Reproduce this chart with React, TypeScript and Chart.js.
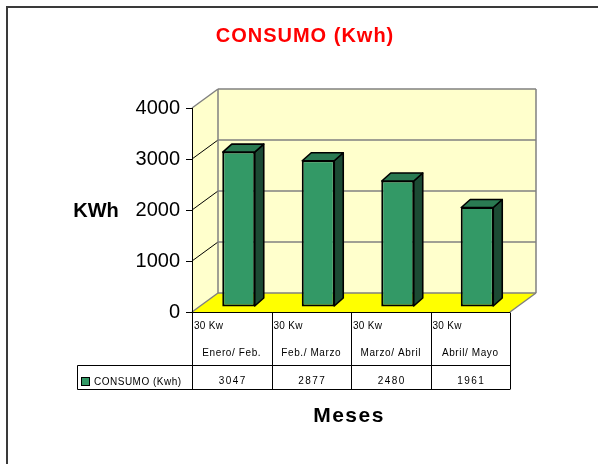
import { useEffect, useRef } from 'react';
import { Chart, registerables } from 'chart.js';

Chart.register(...registerables);

const categories = ['Enero/ Feb.', 'Feb./ Marzo', 'Marzo/ Abril', 'Abril/ Mayo'];
const categoryNotes = ['30 Kw', '30 Kw', '30 Kw', '30 Kw'];
const consumo = [3047, 2877, 2480, 1961];
const seriesLabel = 'CONSUMO (Kwh)';
const yTicks = [0, 1000, 2000, 3000, 4000];
const chartTitle = 'CONSUMO (Kwh)';
const yTitle = 'KWh';
const xTitle = 'Meses';

const FONT = '"Liberation Sans", Arial, sans-serif';
const DEPTH = { x: 26, y: -19 };
const BAR_SHIFT = { x: 7, y: -5 };
const BAR_DEPTH = { x: 9, y: -8 };
const WALL = '#FFFFCC';
const FLOOR = '#FFFF00';
const EDGE = '#808080';
const BAR_FRONT = '#339966';
const BAR_SIDE = '#1c4a33';
const BAR_TOP = '#2a7a52';

function poly(ctx: CanvasRenderingContext2D, pts: number[][], fill?: string, stroke?: string, lw = 1) {
  ctx.beginPath();
  ctx.moveTo(pts[0][0], pts[0][1]);
  for (let i = 1; i < pts.length; i++) ctx.lineTo(pts[i][0], pts[i][1]);
  ctx.closePath();
  if (fill) { ctx.fillStyle = fill; ctx.fill(); }
  if (stroke) { ctx.strokeStyle = stroke; ctx.lineWidth = lw; ctx.stroke(); }
}

function line(ctx: CanvasRenderingContext2D, x1: number, y1: number, x2: number, y2: number, color: string, lw = 1) {
  ctx.beginPath();
  ctx.moveTo(x1, y1);
  ctx.lineTo(x2, y2);
  ctx.strokeStyle = color;
  ctx.lineWidth = lw;
  ctx.stroke();
}

const scenePlugin = {
  id: 'scene3d',
  beforeDraw(chart: any) {
    const { ctx, chartArea: a, scales } = chart;
    const ys = scales.y;
    const xs = scales.x;
    ctx.save();
    ctx.fillStyle = '#ffffff';
    ctx.fillRect(0, 0, chart.width, chart.height);
    // outer frame
    ctx.strokeStyle = '#3a3a3a';
    ctx.lineWidth = 2;
    ctx.strokeRect(7, 7, chart.width + 40, chart.height + 40);

    const dx = DEPTH.x, dy = DEPTH.y;
    // left wall
    poly(ctx, [[a.left, a.top], [a.left + dx, a.top + dy], [a.left + dx, a.bottom + dy], [a.left, a.bottom]], WALL);
    // back wall
    poly(ctx, [[a.left + dx, a.top + dy], [a.right + dx, a.top + dy], [a.right + dx, a.bottom + dy], [a.left + dx, a.bottom + dy]], WALL);
    // floor
    poly(ctx, [[a.left, a.bottom], [a.right, a.bottom], [a.right + dx, a.bottom + dy], [a.left + dx, a.bottom + dy]], FLOOR);

    // gridlines
    yTicks.forEach((v) => {
      const y = ys.getPixelForValue(v);
      const isEdge = v === yTicks[0] || v === yTicks[yTicks.length - 1];
      line(ctx, a.left + dx, y + dy, a.right + dx, y + dy, EDGE, 1.5);
      line(ctx, a.left, y, a.left + dx, y + dy, isEdge ? EDGE : '#000', isEdge ? 1.5 : 1);
    });
    // wall edges
    line(ctx, a.left + dx, a.top + dy, a.left + dx, a.bottom + dy, EDGE, 1.5);
    line(ctx, a.right + dx, a.top + dy, a.right + dx, a.bottom + dy, EDGE, 1.5);
    line(ctx, a.right, a.bottom, a.right + dx, a.bottom + dy, EDGE, 1.5);

    // data table
    const catW = xs.getPixelForValue(1) - xs.getPixelForValue(0);
    const rowMid = 365.5;
    const rowBot = 389.5;
    const legLeft = 77.5;
    const top = Math.round(a.bottom) + 0.5;
    line(ctx, a.left, top, a.right, top, '#000', 1);
    line(ctx, legLeft, rowMid, a.right, rowMid, '#000', 1);
    line(ctx, legLeft, rowBot, a.right, rowBot, '#000', 1);
    line(ctx, legLeft, rowMid, legLeft, rowBot, '#000', 1);
    for (let i = 0; i <= categories.length; i++) {
      const bx = Math.round(xs.getPixelForValue(0) - catW / 2 + i * catW) + 0.5;
      line(ctx, bx, top, bx, rowBot, '#000', 1);
    }
    ctx.fillStyle = '#000';
    ctx.font = `10px ${FONT}`;
    ctx.textBaseline = 'alphabetic';
    categories.forEach((c, i) => {
      const cx = xs.getPixelForValue(i);
      const cl = cx - catW / 2;
      ctx.textAlign = 'left';
      (ctx as any).letterSpacing = '0.3px';
      ctx.fillText(categoryNotes[i], cl + 2, 329);
      ctx.textAlign = 'center';
      (ctx as any).letterSpacing = '0.6px';
      ctx.fillText(c, cx, 356);
      (ctx as any).letterSpacing = '1.5px';
      ctx.fillText(String(consumo[i]), cx + 1, 384);
    });
    // legend key
    ctx.fillStyle = BAR_FRONT;
    ctx.fillRect(81, 377, 8, 8);
    ctx.strokeStyle = '#000';
    ctx.lineWidth = 1;
    ctx.strokeRect(81.5, 377.5, 8, 8);
    ctx.fillStyle = '#000';
    ctx.textAlign = 'left';
    (ctx as any).letterSpacing = '0.5px';
    ctx.fillText(seriesLabel, 94, 385);
    (ctx as any).letterSpacing = '0px';
    ctx.restore();
  },
  beforeDatasetDraw(chart: any) {
    chart.ctx.save();
    chart.ctx.translate(BAR_SHIFT.x, BAR_SHIFT.y);
  },
  afterDatasetDraw(chart: any) {
    chart.ctx.restore();
  },
  afterDatasetsDraw(chart: any) {
    const { ctx } = chart;
    const meta = chart.getDatasetMeta(0);
    ctx.save();
    ctx.translate(BAR_SHIFT.x, BAR_SHIFT.y);
    ctx.lineJoin = 'round';
    meta.data.forEach((el: any) => {
      const { x, y, base, width } = el.getProps(['x', 'y', 'base', 'width'], true);
      const l = x - width / 2 + 0.5;
      const r = x + width / 2 - 0.5;
      const t = y + 0.5;
      const b = base - 0.5;
      poly(ctx, [[r, t], [r + BAR_DEPTH.x, t + BAR_DEPTH.y], [r + BAR_DEPTH.x, b + BAR_DEPTH.y], [r, b]], BAR_SIDE, '#000', 1.6);
      poly(ctx, [[l, t], [l + BAR_DEPTH.x, t + BAR_DEPTH.y], [r + BAR_DEPTH.x, t + BAR_DEPTH.y], [r, t]], BAR_TOP, '#000', 1.6);
    });
    ctx.restore();
  },
  afterDraw(chart: any) {
    const { ctx, chartArea: a } = chart;
    ctx.save();
    // left front edge of wall (axis line)
    line(ctx, a.left + 0.5, a.top, a.left + 0.5, a.bottom, '#000', 1);
    ctx.textBaseline = 'alphabetic';
    ctx.textAlign = 'center';
    ctx.fillStyle = '#ff0000';
    ctx.font = `bold 20px ${FONT}`;
    (ctx as any).letterSpacing = '1px';
    ctx.fillText(chartTitle, 305, 42);
    ctx.fillStyle = '#000';
    (ctx as any).letterSpacing = '0px';
    ctx.fillText(yTitle, 96, 217);
    ctx.font = `bold 21px ${FONT}`;
    (ctx as any).letterSpacing = '1.5px';
    ctx.fillText(xTitle, 349, 422);
    ctx.restore();
  },
};

export default function App() {
  const ref = useRef<HTMLCanvasElement | null>(null);
  useEffect(() => {
    if (!ref.current) return;
    const chart = new Chart(ref.current, {
      type: 'bar',
      data: {
        labels: categories,
        datasets: [
          {
            label: seriesLabel,
            data: consumo,
            backgroundColor: BAR_FRONT,
            borderColor: '#000',
            borderWidth: 2,
            borderSkipped: false,
            barPercentage: 0.415,
            categoryPercentage: 1,
            clip: false as any,
          },
        ],
      },
      options: {
        responsive: false,
        animation: false,
        devicePixelRatio: 1,
        layout: { padding: { top: 108, right: 88, bottom: 152, left: 0 } },
        plugins: {
          legend: { display: false },
          title: { display: false },
          tooltip: { enabled: false },
        },
        scales: {
          x: { display: false },
          y: {
            min: 0,
            max: 4000,
            afterBuildTicks: (s: any) => {
              s.ticks = yTicks.map((v) => ({ value: v }));
            },
            afterFit: (s: any) => {
              s.width = 192;
            },
            ticks: {
              font: { family: FONT, size: 20 },
              color: '#000',
              padding: 6,
              callback: (v: any) => String(v),
            },
            grid: { drawOnChartArea: false, drawTicks: true, tickLength: 6, color: '#000' },
            border: { display: true, color: '#000', width: 1 },
          },
        },
      },
      plugins: [scenePlugin],
    });
    return () => chart.destroy();
  }, []);
  return (
    <div style={{ position: 'absolute', left: 0, top: 0, width: 598, height: 464 }}>
      <canvas ref={ref} width={598} height={464} style={{ width: 598, height: 464, display: 'block' }} />
    </div>
  );
}
